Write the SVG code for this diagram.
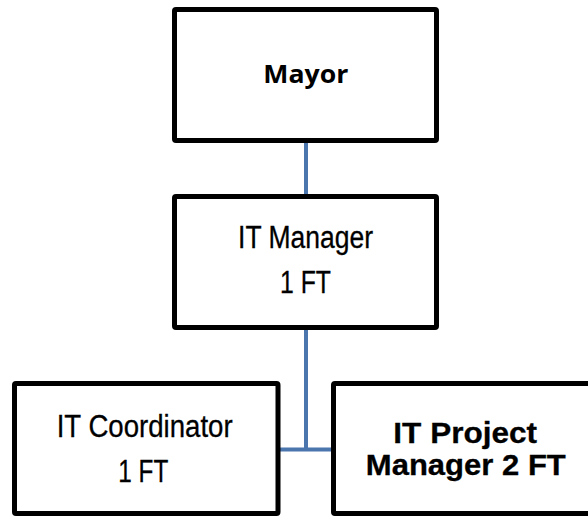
<svg xmlns="http://www.w3.org/2000/svg" width="588" height="516" viewBox="0 0 588 516">
<style>
.box{fill:#fff;stroke:#000;stroke-width:5;stroke-linejoin:round}
.conn{fill:none;stroke:#4A75AD;stroke-width:4}
.t{font-family:"Liberation Sans",Arial,sans-serif;font-size:31px;fill:#000;stroke:#000;stroke-width:0.3;text-anchor:middle}
.b{font-family:"Liberation Sans",Arial,sans-serif;font-size:30px;font-weight:bold;fill:#000;stroke:#000;stroke-width:0.3;text-anchor:middle}
.m{font-family:"Open Sans","Noto Sans",sans-serif;font-size:25.5px;font-weight:bold;fill:#000;text-anchor:middle}
</style>
<rect width="588" height="516" fill="#fff"/>
<g id="connectors">
<line class="conn" x1="306" y1="142" x2="306" y2="195"/>
<path class="conn" d="M306,329 V449.5 M279,449.5 H332"/>
</g>
<g id="mayor">
<rect class="box" x="174.5" y="9.5" width="262" height="131" rx="1.5"/>
<text class="m" x="305.8" y="83.3" textLength="85" lengthAdjust="spacingAndGlyphs">Mayor</text>
</g>
<g id="it-manager">
<rect class="box" x="174.5" y="196.5" width="262" height="131" rx="1.5"/>
<text class="t" x="305.6" y="247.5" textLength="135" lengthAdjust="spacingAndGlyphs">IT Manager</text>
<text class="t" x="305.5" y="293.3" textLength="51" lengthAdjust="spacingAndGlyphs">1 FT</text>
</g>
<g id="it-coordinator">
<rect class="box" x="14.5" y="383.5" width="263.5" height="130" rx="1.5"/>
<text class="t" x="144.7" y="436.7" textLength="176" lengthAdjust="spacingAndGlyphs">IT Coordinator</text>
<text class="t" x="143.3" y="481.7" textLength="50" lengthAdjust="spacingAndGlyphs">1 FT</text>
</g>
<g id="it-project-manager">
<rect class="box" x="333.5" y="383.5" width="263.5" height="130" rx="1.5"/>
<text class="b" x="465.2" y="443" textLength="143.7" lengthAdjust="spacingAndGlyphs">IT Project</text>
<text class="b" x="465.8" y="474.5" textLength="200" lengthAdjust="spacingAndGlyphs">Manager 2 FT</text>
</g>
</svg>
